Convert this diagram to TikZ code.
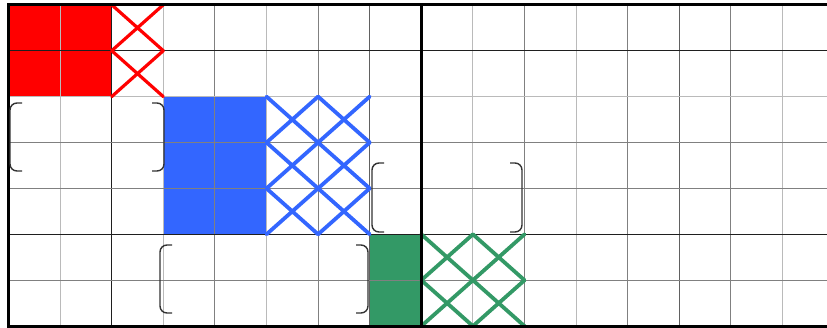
\documentclass[tikz,border=0pt]{standalone}
\definecolor{myred}{HTML}{FF0000}
\definecolor{myblue}{HTML}{3366FF}
\definecolor{mygreen}{HTML}{339966}
\tikzset{
  hatch/.style={line width=3.2pt, line cap=round},
  glight/.style={draw=black!27, line width=1pt},
  gmed/.style={draw=black!50, line width=1pt},
  gdark/.style={draw=black!62, line width=1pt},
  gblack/.style={draw=black!88, line width=1pt},
  border/.style={draw=black, line width=3pt},
  brk/.style={draw=black!80, line width=1.4pt, rounded corners=7pt},
}
\newcommand\cx[1]{8.5+51.6*(#1)}
\newcommand\ry[1]{4.8+45.9*(#1)}
\begin{document}
\begin{tikzpicture}[x=1pt,y=-1pt]
\useasboundingbox (0,0) rectangle (827,327);
% fills
\fill[myred] ({\cx{0}},{\ry{0}}) rectangle ({\cx{2}},{\ry{2}});
\fill[myblue] ({\cx{3}},{\ry{2}}) rectangle ({\cx{5}},{\ry{5}});
\fill[mygreen] ({\cx{7}},{\ry{5}}) rectangle ({\cx{8}},{\ry{7}});
% grid
\foreach \i in {1,3,5,9,11,15}
  \draw[glight] ({\cx{\i}},{\ry{0}}) -- ({\cx{\i}},{\ry{7}});
\foreach \i in {4,6,10,12,14}
  \draw[gmed] ({\cx{\i}},{\ry{0}}) -- ({\cx{\i}},{\ry{7}});
\foreach \i in {7,13}
  \draw[gdark] ({\cx{\i}},{\ry{0}}) -- ({\cx{\i}},{\ry{7}});
\draw[gblack] ({\cx{2}},{\ry{0}}) -- ({\cx{2}},{\ry{7}});
\draw[glight] ({\cx{0}},{\ry{2}}) -- (827,{\ry{2}});
\foreach \j in {3,4,6}
  \draw[gmed] ({\cx{0}},{\ry{\j}}) -- (827,{\ry{\j}});
\foreach \j in {1,5}
  \draw[gblack] ({\cx{0}},{\ry{\j}}) -- (827,{\ry{\j}});
% hatches
\foreach \c/\r in {2/0,2/1}
  \draw[hatch,myred] ({\cx{\c}},{\ry{\r}}) -- ({\cx{\c+1}},{\ry{\r+1}})
    ({\cx{\c+1}},{\ry{\r}}) -- ({\cx{\c}},{\ry{\r+1}});
\foreach \c/\r in {5/2,5/3,5/4,6/2,6/3,6/4}
  \draw[hatch,myblue,line width=3.8pt] ({\cx{\c}},{\ry{\r}}) -- ({\cx{\c+1}},{\ry{\r+1}})
    ({\cx{\c+1}},{\ry{\r}}) -- ({\cx{\c}},{\ry{\r+1}});
\foreach \c/\r in {8/5,8/6,9/5,9/6}
  \draw[hatch,mygreen,line width=3.8pt] ({\cx{\c}},{\ry{\r}}) -- ({\cx{\c+1}},{\ry{\r+1}})
    ({\cx{\c+1}},{\ry{\r}}) -- ({\cx{\c}},{\ry{\r+1}});
% borders
\draw[border] (827,{\ry{0}}) -- ({\cx{0}},{\ry{0}}) -- ({\cx{0}},{\ry{7}}) -- (827,{\ry{7}});
\draw[border,line width=3.5pt] ({\cx{8}},{\ry{0}}) -- ({\cx{8}},{\ry{7}});
% brackets
\draw[brk] (22,103) -- (10,103) -- (10,171) -- (22,171);
\draw[brk] (152,103) -- (164,103) -- (164,171) -- (152,171);
\draw[brk] (384,163) -- (372,163) -- (372,232) -- (384,232);
\draw[brk] (510,163) -- (522,163) -- (522,232) -- (510,232);
\draw[brk] (172,245) -- (160,245) -- (160,313) -- (172,313);
\draw[brk] (356,245) -- (368,245) -- (368,313) -- (356,313);
\end{tikzpicture}
\end{document}
